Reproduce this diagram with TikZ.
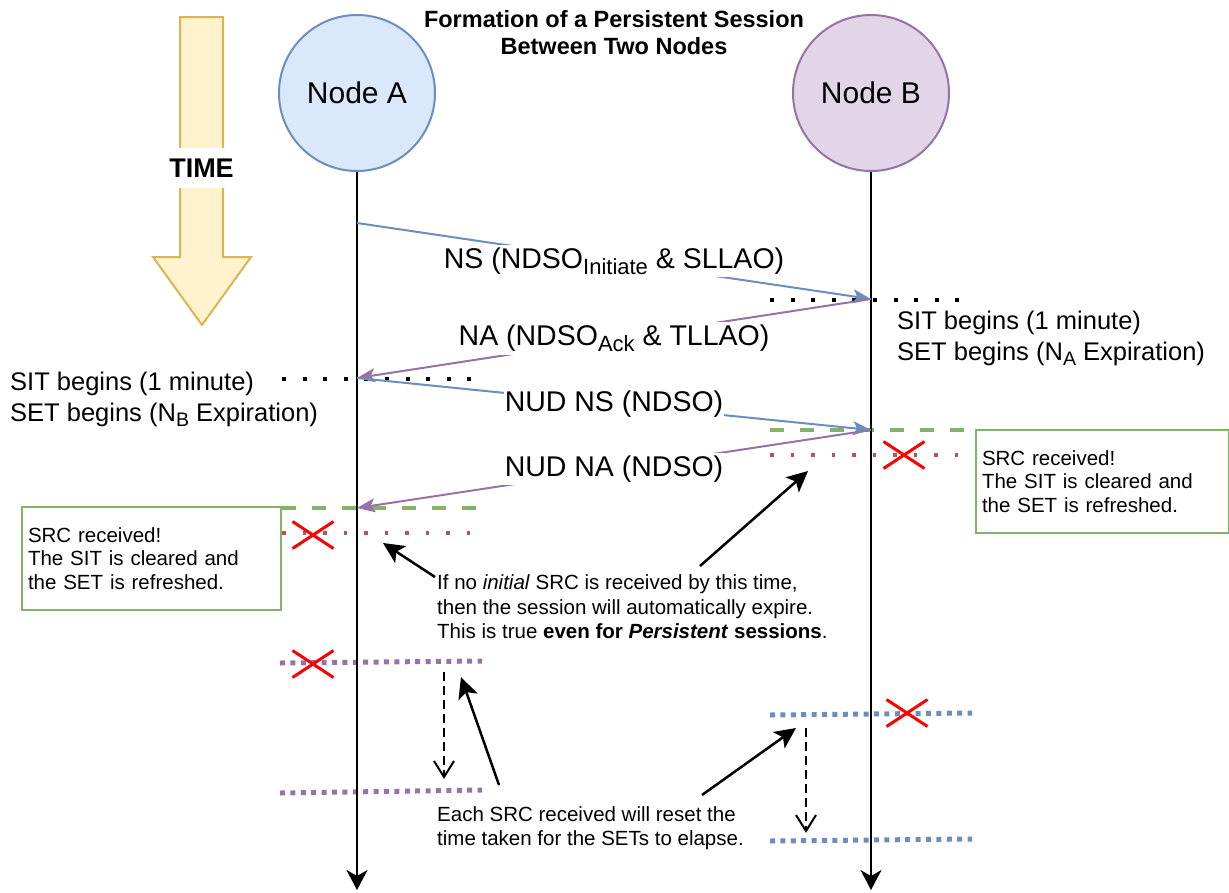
\documentclass[tikz,border=0pt]{standalone}
\usepackage{fontspec}
\setmainfont{Liberation Sans}
\usetikzlibrary{arrows.meta,shapes.misc}

\definecolor{nsblue}{HTML}{6C8EBF}
\definecolor{napurple}{HTML}{9673A6}
\definecolor{srcgreen}{HTML}{82B366}
\definecolor{expred}{HTML}{B85450}
\definecolor{afill}{HTML}{DAE8FC}
\definecolor{bfill}{HTML}{E1D5E7}
\definecolor{timefill}{HTML}{FFF2CC}
\definecolor{timeline}{HTML}{D6B656}

% lowered, smaller text: {size}{drop}{text}
\newcommand{\lowsub}[3]{\raisebox{-#2pt}{\fontsize{#1}{#1}\selectfont #3}}

\tikzset{
  peer/.style={circle, draw, line width=2pt, minimum size=156pt, inner sep=0pt,
    font=\fontsize{30}{36}\selectfont},
  lifeline/.style={line width=2pt, -{Stealth[length=20pt,width=21pt,inset=6pt]}},
  msg/.style={line width=2pt, -{Stealth[length=18pt,width=14pt,inset=4pt]}},
  msglabel/.style={fill=white, text=black, inner xsep=1pt, inner ysep=3pt,
    font=\fontsize{28.5}{34}\selectfont},
  timertext/.style={align=left, inner sep=0pt, font=\fontsize{25.5}{31}\selectfont},
  blackdots/.style={line width=4pt, dash pattern=on 4pt off 16.6pt},
  reddots/.style={expred, line width=3.5pt, dash pattern=on 3.5pt off 17pt},
  greendash/.style={srcgreen, line width=4.5pt, dash pattern=on 14pt off 16pt},
  setdots/.style={line width=5pt, dash pattern=on 5pt off 5.4pt},
  xmark/.style={cross out, draw=red, line width=3pt, minimum width=38pt,
    minimum height=24pt, inner sep=0pt},
  srcbox/.style={draw=srcgreen, fill=white, line width=2pt, align=left,
    inner xsep=6pt, minimum height=103pt, font=\fontsize{20.5}{23.5}\selectfont},
  note/.style={align=left, inner sep=0pt, font=\fontsize{20.5}{24.5}\selectfont},
  callout/.style={line width=2.5pt, -{Stealth[length=21pt,width=20pt,inset=5pt]}},
  elapseline/.style={line width=2pt, dash pattern=on 9pt off 5pt},
  elapsetip/.style={line width=2pt, line join=miter},
}

\begin{document}
\begin{tikzpicture}[x=1pt,y=-1pt]
\useasboundingbox (0,0) rectangle (1229,892);

% time arrow
\draw[timeline, fill=timefill, line width=2pt, line join=miter]
  (180,17) -- (223,17) -- (223,257) -- (251,257) -- (202,325)
  -- (153,257) -- (180,257) -- cycle;
\node[fill=white, inner xsep=0pt, minimum height=40pt,
  font=\bfseries\fontsize{27}{32}\selectfont] (time) at (201.5,168) {TIME};

% title
\node[align=center, font=\bfseries\fontsize{23.5}{27}\selectfont] (title) at (614,33)
  {Formation of a Persistent Session\\Between Two Nodes};

% peers
\node[peer, draw=nsblue, fill=afill] (A) at (357,93) {Node A};
\node[peer, draw=napurple, fill=bfill] (B) at (871,93) {Node B};

% timer markers
\draw[blackdots] (770,300) -- (962,300);
\draw[blackdots] (282,379) -- (472,379);
\draw[greendash] (770,430) -- (972,430);
\draw[greendash] (282,508) -- (482,508);
\draw[reddots] (770,455) -- (970,455);
\draw[reddots] (282,533) -- (472,533);
\draw[setdots, napurple] (280,663) -- (482,661);
\draw[setdots, napurple] (280,793) -- (482,790);
\draw[setdots, nsblue] (770,715) -- (972,713);
\draw[setdots, nsblue] (770,841) -- (972,839);

% lifelines
\coordinate (Aend) at (357,890);
\coordinate (Bend) at (871,890);
\draw[lifeline] (A.south) -- (Aend);
\draw[lifeline] (B.south) -- (Bend);

% message points
\coordinate (a1) at (357,223);
\coordinate (b1) at (871,299);
\coordinate (a2) at (357,378);
\coordinate (b2) at (871,430);
\coordinate (a3) at (357,508);

\draw[msg, nsblue] (a1) -- node[msglabel] (ns)
  {NS (NDSO\lowsub{22}{6}{Initiate} \& SLLAO)} (b1);
\draw[msg, napurple] (b1) -- node[msglabel] (na)
  {NA (NDSO\lowsub{22}{6}{Ack} \& TLLAO)} (a2);
\draw[msg, nsblue] (a2) -- node[msglabel] (nudns) {NUD NS (NDSO)} (b2);
\draw[msg, napurple] (b2) -- node[msglabel] (nudna) {NUD NA (NDSO)} (a3);

% timer texts
\node[timertext, anchor=west] (sitB) at (897,338)
  {SIT begins (1 minute)\\SET begins (N\lowsub{19.5}{5}{A} Expiration)};
\node[timertext, anchor=west] (sitA) at (10,399)
  {SIT begins (1 minute)\\SET begins (N\lowsub{19.5}{5}{B} Expiration)};

% SRC boxes
\node[srcbox, anchor=north west, text width=247pt] (srcA) at (21,506)
  {SRC received!\\The SIT is cleared and\\the SET is refreshed.};
\node[srcbox, anchor=north west, text width=241pt] (srcB) at (975,429)
  {SRC received!\\The SIT is cleared and\\the SET is refreshed.};

% expiry crosses
\node[xmark] (x1) at (904,455) {};
\node[xmark] (x2) at (313,535) {};
\node[xmark] (x3) at (313,664) {};
\node[xmark] (x4) at (907,713) {};

% notes
\node[note, anchor=west] (note1) at (437,607)
  {If no \textit{initial} SRC is received by this time,\\
   then the session will automatically expire.\\
   This is true \textbf{even for \textit{Persistent} sessions}.};
\node[note, anchor=west] (note2) at (437,828)
  {Each SRC received will reset the\\time taken for the SETs to elapse.};

% callout arrows
\coordinate (c1s) at (435,577);  \coordinate (c1e) at (383,543);
\coordinate (c2s) at (700,566);  \coordinate (c2e) at (808,471);
\coordinate (c3s) at (499,785);  \coordinate (c3e) at (461,677);
\coordinate (c4s) at (702,795);  \coordinate (c4e) at (796,728);
\draw[callout] (c1s) -- (c1e);
\draw[callout] (c2s) -- (c2e);
\draw[callout] (c3s) -- (c3e);
\draw[callout] (c4s) -- (c4e);

% elapse arrows: dashed shaft, solid open V tip
\coordinate (e1s) at (444,672);  \coordinate (e1e) at (444,777);
\coordinate (e2s) at (806,728);  \coordinate (e2e) at (806,831);
\draw[elapseline] (e1s) -- (e1e);
\draw[elapsetip] (e1e) ++(-10,-16) -- (e1e) -- ++(10,-16);
\draw[elapseline] (e2s) -- (e2e);
\draw[elapsetip] (e2e) ++(-10,-16) -- (e2e) -- ++(10,-16);
\end{tikzpicture}
\end{document}
